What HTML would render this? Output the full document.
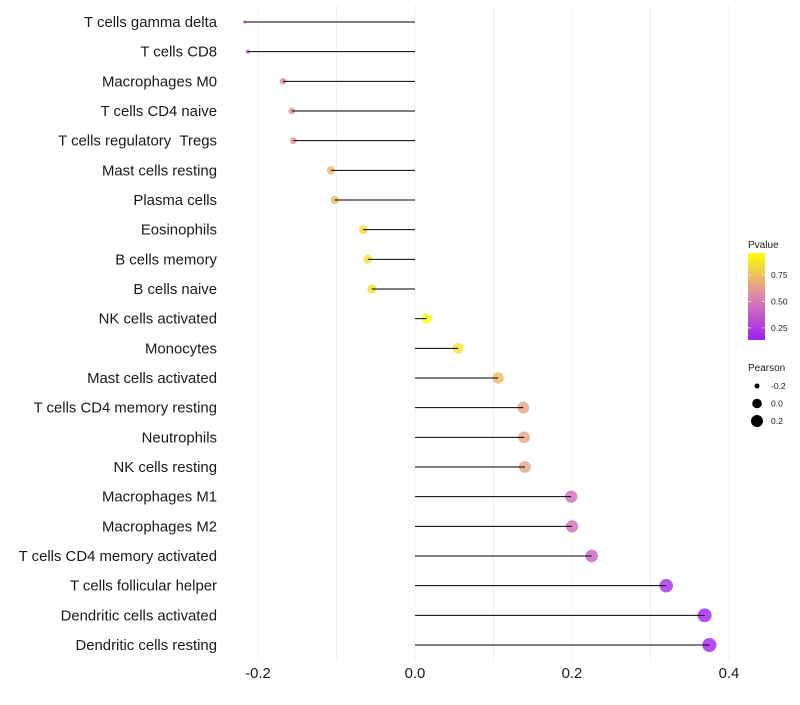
<!DOCTYPE html>
<html><head><meta charset="utf-8"><style>
body{margin:0;background:#fff;font-family:"Liberation Sans",sans-serif}
</style></head><body>
<svg id="c" width="800" height="700" xmlns="http://www.w3.org/2000/svg"></svg>
<script>
const categories=["T cells gamma delta","T cells CD8","Macrophages M0","T cells CD4 naive","T cells regulatory \u00a0Tregs","Mast cells resting","Plasma cells","Eosinophils","B cells memory","B cells naive","NK cells activated","Monocytes","Mast cells activated","T cells CD4 memory resting","Neutrophils","NK cells resting","Macrophages M1","Macrophages M2","T cells CD4 memory activated","T cells follicular helper","Dendritic cells activated","Dendritic cells resting"];
const pearson=[-0.217,-0.213,-0.168,-0.157,-0.155,-0.107,-0.102,-0.066,-0.060,-0.055,0.015,0.055,0.106,0.138,0.139,0.140,0.199,0.200,0.225,0.320,0.369,0.375];
const pvalues=[0.3,0.3,0.55,0.6,0.6,0.7,0.71,0.83,0.84,0.85,0.96,0.86,0.72,0.65,0.65,0.64,0.45,0.45,0.4,0.18,0.14,0.14];
const xTicks=[-0.2,0.0,0.2,0.4];
const legendP=[0.75,0.50,0.25];
const legendSize=[-0.2,0.0,0.2];

const NS="http://www.w3.org/2000/svg";
const svg=document.getElementById('c');
function el(t,a,p){const e=document.createElementNS(NS,t);for(const k in a)e.setAttribute(k,a[k]);(p||svg).appendChild(e);return e;}
const X=v=>415+v*785;
const Y=i=>22+i*(623/21);
const R=v=>1.5+5.5*Math.pow(Math.max(0,(v+0.217)/0.592),0.45);
function col(p){
  const stops=[[0.137,[160,32,240]],[0.55,[222,135,172]],[0.957,[255,255,0]]];
  p=Math.max(0.137,Math.min(0.957,p));
  let a=stops[0],b=stops[1];if(p>stops[1][0]){a=stops[1];b=stops[2];}
  const t=(p-a[0])/(b[0]-a[0]);
  return 'rgb('+a[1].map((c,i)=>Math.round(c+(b[1][i]-c)*t)).join(',')+')';
}
for(let v=-0.2;v<=0.41;v+=0.1){
  const g=el('line',{x1:X(v),x2:X(v),y1:5,y2:660,stroke:'#f0f0f0','stroke-width':1});
  
  
}
categories.forEach((c,i)=>{
  const y=Y(i);
  const pt=el('circle',{cx:X(pearson[i]),cy:y,r:R(pearson[i]),fill:col(pvalues[i]),'fill-opacity':0.8});
  
  
  const s=el('line',{x1:X(pearson[i]),x2:X(0),y1:y,y2:y,stroke:'#000','stroke-width':1});
  
  
  const t=el('text',{x:217,y:y+5,'text-anchor':'end','font-size':14.9,fill:'#1a1a1a'});
  t.textContent=c;
  
  
});
xTicks.forEach(v=>{
  const t=el('text',{x:X(v),y:678,'text-anchor':'middle','font-size':14.9,fill:'#1a1a1a'});
  t.textContent=v.toFixed(1);
  
  
});
const lt=el('text',{x:748,y:248,'font-size':10,fill:'#1a1a1a'});lt.textContent='Pvalue';


const defs=el('defs',{});
const lg=el('linearGradient',{id:'gr',x1:0,y1:1,x2:0,y2:0},defs);
for(let k=0;k<=10;k++){const p=0.137+k*0.082;el('stop',{offset:k/10,'stop-color':col(p)},lg);}
const bar=el('rect',{x:748,y:253,width:17,height:87,fill:'url(#gr)'});


legendP.forEach(p=>{
  const y=253+(0.957-p)*106;
  el('line',{x1:748,x2:751,y1:y,y2:y,stroke:'#fff','stroke-width':0.7});
  el('line',{x1:762,x2:765,y1:y,y2:y,stroke:'#fff','stroke-width':0.7});
  const t=el('text',{x:771,y:y+3,'font-size':8.5,fill:'#1a1a1a'});t.textContent=p.toFixed(2);
  
  
});
const st=el('text',{x:748,y:371,'font-size':10,fill:'#1a1a1a'});st.textContent='Pearson';


legendSize.forEach((v,k)=>{
  const y=386+k*17.5;
  const c=el('circle',{cx:757,cy:y,r:[2.5,4.8,6][k],fill:'#000'});
  
  
  const t=el('text',{x:771,y:y+3,'font-size':8.5,fill:'#1a1a1a'});t.textContent=v.toFixed(1);
  
  
});
</script>
</body></html>
